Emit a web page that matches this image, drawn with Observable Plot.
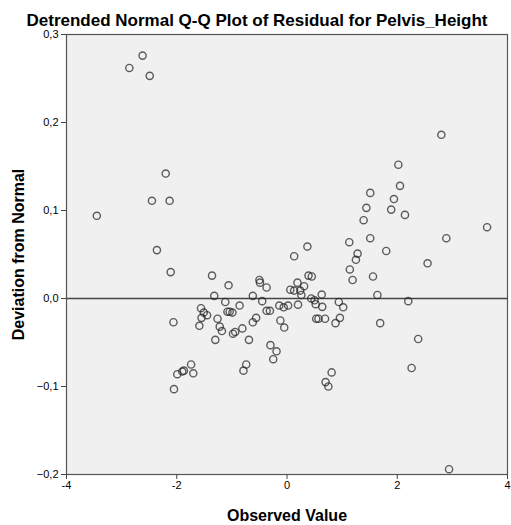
<!DOCTYPE html>
<html>
<head>
<meta charset="utf-8">
<script src="https://cdn.jsdelivr.net/npm/d3@7"></script>
<script src="https://cdn.jsdelivr.net/npm/@observablehq/plot@0.6"></script>
<style>
  html, body { margin: 0; padding: 0; background: #fff; }
  #chart svg { display: block; }
</style>
</head>
<body>
<div id="chart"></div>
<script>
const titleText = "Detrended Normal Q-Q Plot of Residual for Pelvis_Height";
const xLabel = "Observed Value";
const yLabel = "Deviation from Normal";
const xTicks = [-4, -2, 0, 2, 4];
const yTicks = [-0.2, -0.1, 0, 0.1, 0.2, 0.3];

const observed = [
  -3.45, -2.86, -2.62, -2.49, -2.20, -2.45, -2.13, -2.36, -2.11, -2.06,
  -2.05, -1.99, -1.90, -1.87, -1.70, -1.74, -1.59, -1.56, -1.51, -1.45,
  -1.55, -1.36, -1.32, -1.26, -1.22, -1.18, -1.30, -1.12, -1.06, -1.08,
  -1.04, -0.99, -0.86, -0.98, -0.94, -0.81, -0.69, -0.74, -0.79, -0.62,
  -0.56, -0.62, -0.50, -0.49, -0.37, -0.45, -0.37, -0.31, -0.30, -0.19,
  -0.25, -0.14, -0.06, 0.02, -0.12, -0.05, 0.06, 0.13, 0.13, 0.19,
  0.24, 0.26, 0.31, 0.20, 0.37, 0.39, 0.45, 0.44, 0.50, 0.52,
  0.64, 0.63, 0.53, 0.57, 0.69, 0.81, 0.70, 0.75, 0.88, 0.96,
  0.94, 1.02, 1.13, 1.28, 1.25, 1.14, 1.19, 1.39, 1.44, 1.51,
  1.51, 1.56, 1.64, 1.69, 1.80, 1.89, 1.94, 2.02, 2.05, 2.14,
  2.20, 2.38, 2.26, 2.55, 2.80, 2.89, 3.63, 2.94
];
const deviation = [
  0.094, 0.262, 0.276, 0.253, 0.142, 0.111, 0.111, 0.055, 0.030, -0.027,
  -0.103, -0.086, -0.083, -0.082, -0.085, -0.075, -0.031, -0.011, -0.016, -0.019,
  -0.022, 0.026, 0.003, -0.023, -0.032, -0.037, -0.047, -0.004, 0.015, -0.015,
  -0.015, -0.016, -0.008, -0.040, -0.038, -0.034, -0.047, -0.075, -0.082, -0.027,
  -0.022, 0.003, 0.021, 0.018, 0.0125, -0.003, -0.014, -0.014, -0.053, -0.060,
  -0.069, -0.008, -0.010, -0.008, -0.025, -0.033, 0.010, 0.009, 0.048, 0.018,
  0.009, 0.004, 0.014, -0.007, 0.059, 0.026, 0.025, 0.000, -0.002, -0.0065,
  -0.0095, 0.0045, -0.023, -0.023, -0.023, -0.084, -0.095, -0.100, -0.028, -0.022,
  -0.004, -0.010, 0.064, 0.051, 0.044, 0.033, 0.021, 0.089, 0.103, 0.120,
  0.0685, 0.025, 0.004, -0.028, 0.054, 0.101, 0.113, 0.152, 0.128, 0.095,
  -0.003, -0.046, -0.079, 0.040, 0.186, 0.0685, 0.081, -0.194
];

const points = observed.map((x, i) => ({x, y: deviation[i]}));
const fmtY = d => d3.format(".1f")(d).replace(".", ",");
const fmtX = d => String(d);

const chart = Plot.plot({
  width: 511,
  height: 525,
  marginLeft: 66,
  marginRight: 4,
  marginTop: 34,
  marginBottom: 51,
  style: {fontFamily: "'Liberation Sans', Arial, sans-serif", fontSize: "11px", color: "#000", background: "#fff"},
  x: {domain: [-4, 4]},
  y: {domain: [-0.2, 0.3]},
  marks: [
    Plot.frame({fill: "#f0f0f0", stroke: "none"}),
    Plot.ruleY([0], {stroke: "#444", strokeWidth: 1.5}),
    Plot.dot(points, {x: "x", y: "y", r: 3.6, stroke: "#222", strokeOpacity: 0.72, strokeWidth: 1.4, fill: "none"}),
    Plot.frame({stroke: "#555", strokeWidth: 1.2}),
    Plot.axisX({ticks: xTicks, tickFormat: fmtX, tickSize: 5, tickPadding: 2, stroke: "#444",
      label: xLabel, labelAnchor: "center", labelArrow: "none", labelOffset: 46,
      fontSize: 11}),
    Plot.axisY({ticks: yTicks, tickFormat: fmtY, tickSize: 5, tickPadding: 3, stroke: "#444",
      label: yLabel, labelAnchor: "center", labelArrow: "none", labelOffset: 54,
      fontSize: 11}),
    Plot.text([titleText], {frameAnchor: "top", lineAnchor: "bottom", dy: -9, dx: -30,
      fontSize: 17, fontWeight: "bold", text: d => d})
  ]
});

d3.select(chart).selectAll("[aria-label='x-axis label'] text, [aria-label='y-axis label'] text")
  .attr("font-weight", "bold").attr("font-size", 16);
document.getElementById("chart").append(chart);
</script>
</body>
</html>
